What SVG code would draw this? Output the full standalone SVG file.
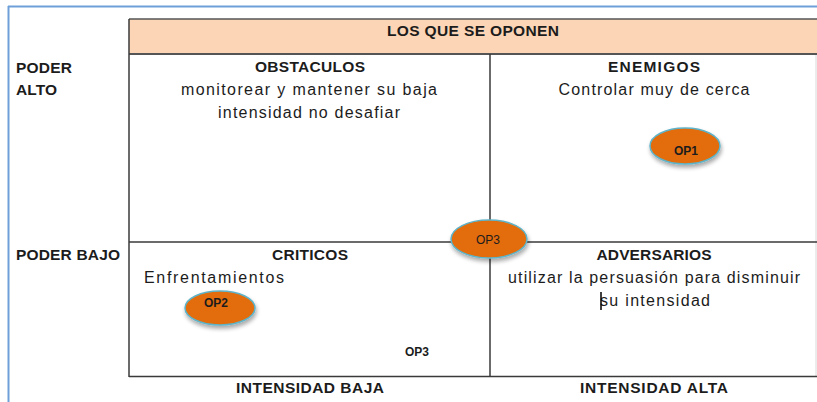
<svg xmlns="http://www.w3.org/2000/svg" width="817" height="402" viewBox="0 0 817 402">
<defs>
<style>
.t{font-family:"Liberation Sans",Arial,sans-serif;fill:#1c1c1c}
.b{font-weight:bold;font-size:15.5px}
.n{font-size:16px}
.s{font-weight:bold;font-size:12px}
.grid{stroke:#3a3a3a;stroke-width:1.5;fill:none}
.op{fill:#E36C0A;stroke:#5fb3c8;stroke-width:1.5}
</style>
<filter id="sh" x="-30%" y="-30%" width="160%" height="170%">
<feGaussianBlur in="SourceAlpha" stdDeviation="2"/>
<feOffset dx="1" dy="3" result="o"/>
<feComponentTransfer><feFuncA type="linear" slope="0.35"/></feComponentTransfer>
<feMerge><feMergeNode/><feMergeNode in="SourceGraphic"/></feMerge>
</filter>
</defs>
<rect width="817" height="402" fill="#ffffff"/>
<g id="frame">
<line x1="8" y1="6.5" x2="817" y2="6.5" stroke="#6f9fd8" stroke-width="2"/>
<line x1="8.5" y1="6" x2="8.5" y2="402" stroke="#6f9fd8" stroke-width="2"/>
<line x1="816" y1="19" x2="816" y2="377" stroke="#d8d8d8" stroke-width="1"/>
</g>
<g id="header">
<rect x="129" y="19" width="688" height="35" fill="#FBD5B5"/>
<line x1="129" y1="19" x2="817" y2="19" stroke="#555" stroke-width="1.5"/>
<line x1="129" y1="54" x2="817" y2="54" stroke="#555" stroke-width="2"/>
<text class="t b" x="473" y="36" text-anchor="middle" textLength="172">LOS QUE SE OPONEN</text>
</g>
<g id="grid">
<line class="grid" x1="129" y1="19" x2="129" y2="377"/>
<line class="grid" x1="490" y1="54" x2="490" y2="377"/>
<line class="grid" x1="129" y1="242" x2="817" y2="242"/>
<line class="grid" x1="129" y1="376.5" x2="817" y2="376.5"/>
</g>
<g id="axis-labels">
<text class="t b" x="16" y="73" textLength="56">PODER</text>
<text class="t b" x="16" y="95" textLength="41">ALTO</text>
<text class="t b" x="16" y="260" textLength="104">PODER BAJO</text>
<text class="t b" x="310" y="393" text-anchor="middle" textLength="148">INTENSIDAD BAJA</text>
<text class="t b" x="654" y="393" text-anchor="middle" textLength="148">INTENSIDAD ALTA</text>
</g>
<g id="obstaculos">
<text class="t b" x="310" y="72" text-anchor="middle" textLength="110">OBSTACULOS</text>
<text class="t n" x="309" y="95" text-anchor="middle" textLength="256">monitorear y mantener su baja</text>
<text class="t n" x="309" y="118" text-anchor="middle" textLength="182">intensidad no desafiar</text>
</g>
<g id="enemigos">
<text class="t b" x="654" y="72" text-anchor="middle" textLength="92">ENEMIGOS</text>
<text class="t n" x="654" y="95" text-anchor="middle" textLength="191">Controlar muy de cerca</text>
</g>
<g id="criticos">
<text class="t b" x="310" y="260" text-anchor="middle" textLength="76">CRITICOS</text>
<text class="t n" x="144" y="283" textLength="140">Enfrentamientos</text>
<text class="t s" x="405" y="356">OP3</text>
</g>
<g id="adversarios">
<text class="t b" x="654" y="260" text-anchor="middle" textLength="115">ADVERSARIOS</text>
<text class="t n" x="654" y="283" text-anchor="middle" textLength="292">utilizar la persuasión para disminuir</text>
<text class="t n" x="655" y="306" text-anchor="middle" textLength="110">su intensidad</text>
<line x1="601" y1="292" x2="601" y2="310" stroke="#000" stroke-width="1.5"/>
</g>
<g id="op1">
<ellipse class="op" cx="685" cy="146" rx="35" ry="18" filter="url(#sh)"/>
<text class="t s" x="686" y="155" text-anchor="middle">OP1</text>
</g>
<g id="op2">
<ellipse class="op" cx="220" cy="308" rx="35" ry="17" filter="url(#sh)"/>
<text class="t s" x="216" y="307" text-anchor="middle">OP2</text>
</g>
<g id="op3">
<ellipse class="op" cx="489" cy="239" rx="38" ry="19" filter="url(#sh)"/>
<text class="t" x="488" y="244" text-anchor="middle" font-size="12">OP3</text>
</g>
</svg>
